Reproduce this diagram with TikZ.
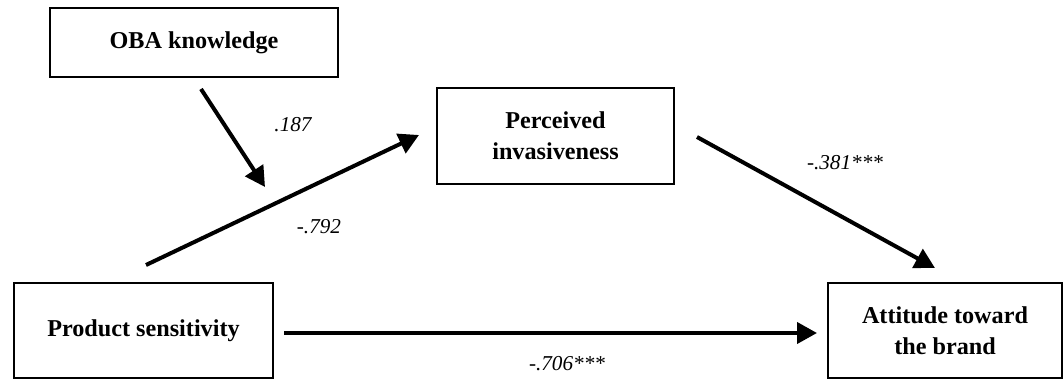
\documentclass[tikz,border=0pt]{standalone}
\usepackage{fontspec}
\setmainfont{Liberation Serif}
\usetikzlibrary{arrows.meta}
\begin{document}
\begin{tikzpicture}[x=0.5pt,y=-0.5pt,
  box/.style={draw,line width=1.2pt,inner sep=0pt,align=center,
    font=\fontsize{12.1}{15.5}\selectfont\bfseries},
  path/.style={line width=2pt,-{Triangle[length=10pt,width=10.5pt]}},
  coef/.style={font=\fontsize{10.6}{12}\selectfont\itshape,inner sep=0pt}]
\useasboundingbox (0,0) rectangle (1064,379);
\node[box,minimum width=144pt,minimum height=34.5pt] (oba) at (194,42.5) {OBA knowledge};
\node[box,minimum width=118.5pt,minimum height=48pt] (perc) at (555.5,136) {Perceived\\invasiveness};
\node[box,minimum width=129.5pt,minimum height=47.5pt] (prod) at (143.5,330.5) {Product sensitivity};
\node[box,minimum width=117pt,minimum height=47.5pt] (att) at (945,330.5) {Attitude toward\\the brand};
\coordinate (obaS) at (201,89);
\coordinate (obaE) at (265,187);
\coordinate (prodS) at (146,265);
\coordinate (percE) at (419,135);
\coordinate (percS) at (697,137);
\coordinate (attE) at (935,268);
\coordinate (prodR) at (284,333);
\coordinate (attL) at (817,333);
\draw[path] (obaS) -- (obaE);
\draw[path] (prodS) -- (percE);
\draw[path] (percS) -- (attE);
\draw[path] (prodR) -- (attL);
\node[coef] (c1) at (293,125) {.187};
\node[coef] (c2) at (319,227) {-.792};
\node[coef] (c3) at (845,163) {-.381***};
\node[coef] (c4) at (567,364) {-.706***};
\end{tikzpicture}
\end{document}
